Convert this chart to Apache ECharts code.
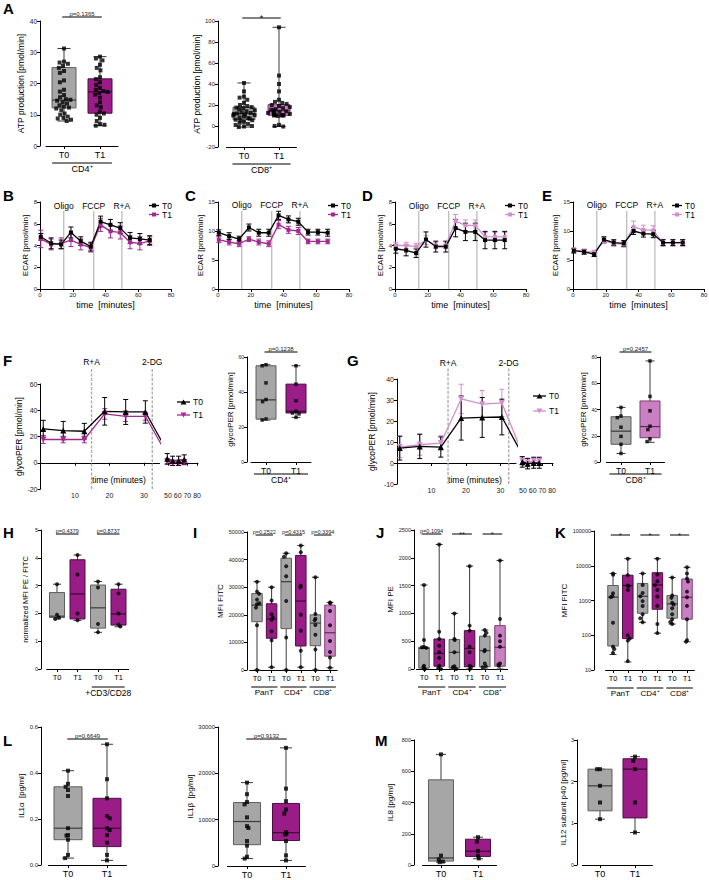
<!DOCTYPE html>
<html><head><meta charset="utf-8">
<script src="https://cdn.jsdelivr.net/npm/echarts@6/dist/echarts.min.js"></script>
<style>html,body{margin:0;padding:0;background:#fff}#c{width:709px;height:880px}</style>
</head><body><div id="c"></div>
<script>
// ================= DATA =================
const CATS2 = ['T0','T1'];
const CATS4 = ['T0','T1','T0','T1'];
const CATS6 = ['T0','T1','T0','T1','T0','T1'];

// Panel A – ATP production (box = [min, Q1, median, Q3, max])
const A_CD4_box = [[8.0,12.2,14.7,25.1,31.2],[6.5,10.5,17.3,21.5,28.6]];
const A_CD4_T0 = [31.2,27.0,26.7,26.3,25.6,25.0,24.0,23.4,21.0,20.4,18.0,17.4,16.3,15.6,15.0,14.8,14.5,14.0,13.6,13.0,12.6,12.3,12.0,11.4,10.4,10.0,9.4,9.0,8.8,8.4,8.0];
const A_CD4_T1 = [28.6,28.0,27.4,26.0,25.0,24.2,22.0,21.4,20.4,19.6,18.6,18.0,17.6,17.3,17.0,16.4,15.5,14.0,13.0,12.4,11.0,10.4,10.0,9.0,8.0,7.0,6.8,6.5];
const A_CD8_box = [[-1,6,11.7,18,41],[-0.5,10.2,14.5,20.3,94]];
const A_CD8_T0 = [41,33,28,27,25,22,20,19,18,17.5,17,16,15,14,13,12.5,12,11.5,11,10.5,10,9,8,7.5,7,6,5.5,5,4,3,2,1,0,-0.5,-1];
const A_CD8_T1 = [94,48,40,33,25,23,22,21,20,19,18,17,16,15.5,15,14,13.5,13,12.5,12,11.5,11,11,10.5,10.5,10,10,10,9.5,1,0,-0.5];

// Panels B–E – ECAR
const ECAR_TIME = [0.5,6.8,12.9,18.9,24.9,31,37,43,49,55,61,67];
const ECAR_INJECT = [14.5,32.8,50];
const ECAR_INJECT_LABEL = ['Oligo','FCCP','R+A'];
const B_T0 = [4.8,4.2,4.1,5.2,4.4,3.9,6.2,5.9,5.6,4.7,4.6,4.5];
const B_T0e = [0.3,0.5,0.4,0.5,0.4,0.4,0.5,0.5,0.5,0.5,0.5,0.4];
const B_T1 = [4.6,4.1,4.2,4.5,4.1,3.8,5.9,5.3,5.2,4.3,4.2,4.4];
const B_T1e = [0.8,0.5,0.5,0.6,0.5,0.4,0.6,0.6,0.6,0.6,0.6,0.4];
const C_T0 = [9.7,9.1,8.6,10.6,9.7,9.7,12.7,12.0,11.6,9.8,9.8,9.7];
const C_T0e = [0.5,0.6,0.5,0.6,0.6,0.6,0.7,0.6,0.6,0.5,0.5,0.6];
const C_T1 = [8.5,8.1,7.8,8.6,8.1,7.8,11.1,10.2,10.0,8.2,8.2,8.2];
const C_T1e = [0.5,0.5,0.5,0.4,0.5,0.5,0.7,0.6,0.6,0.4,0.4,0.4];
const D_T0 = [3.7,3.55,3.3,4.55,3.9,3.9,5.6,5.25,5.25,4.5,4.5,4.5];
const D_T0e = [0.4,0.5,0.4,0.7,0.5,0.5,0.8,0.8,0.8,0.8,0.8,0.8];
const D_T1 = [4.0,4.0,3.9,4.5,4.0,4.0,6.25,5.85,5.85,4.8,4.8,4.8];
const D_T1e = [0.3,0.3,0.3,0.4,0.3,0.3,0.6,0.5,0.5,0.4,0.4,0.4];
const E_T0 = [6.6,6.4,6.0,8.5,8.0,7.85,10.0,9.55,9.45,8.0,8.0,8.0];
const E_T0e = [0.4,0.4,0.4,0.5,0.5,0.5,0.6,0.6,0.6,0.5,0.5,0.5];
const E_T1 = [6.7,6.5,6.3,8.3,7.85,7.7,10.7,10.2,10.1,7.95,7.95,7.95];
const E_T1e = [0.4,0.4,0.4,0.5,0.5,0.5,1.0,0.8,0.8,0.6,0.6,0.6];

// Panels F–G – glycoPER
const GLYCO_TIME = [0.8,6.6,12.7,18.6,24.7,30.4,36.5,42.5,49.3,54.8,61,66.8];
const GLYCO_INJECT = [14.8,32.4];
const GLYCO_INJECT_LABEL = ['R+A','2-DG'];
const F_T0 = [25.8,24.5,24,39.2,38.7,38.7,10,5,3,1.5,1.5,2.5];
const F_T0e = [6.5,7,6,10.5,9.5,8.5,4,4,4,3.5,3.5,3.5];
const F_T1 = [17.7,17.7,17.7,37.2,35.4,35.4,7,3,1,0,0,0.5];
const F_T1e = [3,2.5,2.5,4,4,3,2,2,2,2,2,2];
const G_T0 = [7.1,7.9,7.6,21.4,21.7,21.9,3.5,1.5,0.5,-0.3,0,0];
const G_T0e = [5.7,5.8,4.8,10.5,9.5,8.5,2.5,2.5,2.5,2.5,2.5,2.5];
const G_T1 = [7.6,8.7,9.5,30.5,28,28.6,4,2,1,0.2,1,1];
const G_T1e = [5,5,3.5,7,6.5,6.5,2,2,2,2,2,2];
const F_box = [[24,24.5,35.5,55,55.6],[25.5,28,29,44.5,55]];
const F_box_T0 = [55.6,55,45.2,35.7,34.5,24.6,24];
const F_box_T1 = [55,44.5,35,29,28,27.5,25.5];
const G_box = [[6.5,13.5,23.5,34.5,41.6],[15,18.5,27,46.5,77]];
const G_box_T0 = [41.6,35,33.8,26.5,19.5,13.5,6.5];
const G_box_T1 = [77,50,39,27.3,24.7,17.7,15.6];

// Panel H
const H_box = [[1.8,1.85,1.9,2.75,3.05],[1.75,1.8,2.7,3.93,4.1],[1.32,1.47,2.2,3.02,3.15],[1.52,1.58,1.98,2.87,3.05]];
const H_pts = [[3.05,1.95,1.85,1.8],[4.1,3.4,2.0,1.75],[3.15,2.93,1.62,1.32],[3.05,2.72,2.0,1.6,1.53]];
// Panel I
const I_box = [[0,17500,23500,27700,32000],[1000,11500,18500,24000,30000],[0,15000,32000,40500,42300],[1000,8700,25000,41500,45100],[0,8800,17000,20000,33600],[800,5000,13500,23500,24500]];
const I_pts = [[32000,28400,27600,25500,24200,23800,22600,16200,0],[30000,25200,20200,19000,18200,14000,10800,1000],[42300,41000,37600,34000,25000,11800,0],[45100,42700,30500,30000,20000,14200,7000,1000],[33600,20300,18600,18000,16300,12800,7400,0],[24500,24200,21400,16200,10500,6500,4500,800]];
// Panel J
const J_box = [[0,15,370,390,1510],[0,50,280,540,2240],[0,15,300,530,1000],[0,40,370,690,1850],[0,40,330,590,700],[0,50,390,780,1950]];
const J_pts = [[1510,520,395,390,380,60,30,0,0],[2240,670,540,420,300,200,60,20,0],[1000,540,520,300,50,30,0],[1850,780,690,400,300,60,40,0],[700,650,600,340,320,100,50,30],[1950,900,600,500,400,100,80,60]];
// Panel K (log)
const K_box = [[28,49,1250,2700,6000],[17,80,2700,5350,16000],[236,430,1320,3100,6000],[115,560,2800,6300,16000],[210,310,800,1400,4600],[65,290,1240,4150,9000]];
const K_pts = [[6000,5500,1620,1320,1250,228,47,40,31],[16000,5350,2700,2600,2000,100,80,70,18],[6000,2800,1640,1320,960,690,400,310,236],[16000,5600,3600,2800,2000,1300,700,210,115],[4600,1400,1190,860,770,600,400,290,240,210],[9000,6000,4300,3500,1800,1240,700,290,72,65]];
// Panel L
const L1_box = [[0.03,0.11,0.16,0.34,0.41],[0.02,0.08,0.16,0.29,0.525]];
const L1_T0 = [0.41,0.353,0.34,0.326,0.30,0.16,0.13,0.128,0.11,0.044,0.03];
const L1_T1 = [0.525,0.373,0.29,0.213,0.203,0.16,0.152,0.13,0.097,0.044,0.02];
const L2_box = [[1600,4600,9600,13700,18000],[1200,5500,7200,13500,25500]];
const L2_T0 = [18000,15500,13800,13300,10500,8600,8200,5400,4400,2000,1600];
const L2_T1 = [25500,16700,14000,12200,11300,7300,7000,6800,5400,2300,1200];
// Panel M
const M1_box = [[18,25,45,545,708],[40,55,88,165,178]];
const M1_T0 = [708,60,35,22,18];
const M1_T1 = [178,150,90,60,42];
const M2_box = [[1.1,1.3,1.9,2.3,2.3],[0.78,1.13,2.3,2.55,2.6]];
const M2_T0 = [2.3,2.3,1.9,1.5,1.1];
const M2_T1 = [2.6,2.5,2.3,1.5,0.78];

// ================= STYLE / BUILDERS =================
const FONT = '"Liberation Sans", Arial, Helvetica, sans-serif';
const FILL = {g:'#a6a6a6', p:'#9a1c87', l:'#c97fc1'};
const EDGE = {g:'#5e5e5e', p:'#4f0c45', l:'#7d3d76'};
const MED  = {g:'#3a3a3a', p:'#3d0836', l:'#5d2a57'};
const WHISK = '#3a3a3a';
const LINE_P = '#a2298f', LINE_L = '#d38fcd';
const BLK = '#000', TXT = '#1a1a1a';
const plain = v => String(v);

const grids=[], xAxes=[], yAxes=[], series=[], gfx=[];
const annGroups=[], annBrackets=[], annVlines=[];

function addCS(g, xa, ya){
  const gi = grids.length;
  grids.push(Object.assign({show:false, containLabel:false, outerBoundsMode:'none'}, g));
  xAxes.push(Object.assign({gridIndex:gi}, xa));
  yAxes.push(Object.assign({gridIndex:gi}, ya));
  return gi;
}
function axLine(onZero){ return {show:true, onZero:!!onZero, lineStyle:{color:BLK, width:1}}; }
function axTick(extra){ return Object.assign({show:true, length:3, lineStyle:{color:BLK, width:1}}, extra||{}); }
function axLabel(fs, extra){ return Object.assign({fontSize:fs, color:TXT, margin:3, formatter:plain}, extra||{}); }

function boxPanel(o){
  const n=o.cats.length, band=(o.cx[n-1]-o.cx[0])/(n-1), left=o.cx[0]-band/2;
  const gi = addCS({left:left, top:o.top, width:band*n, height:o.bottom-o.top},
    {type:'category', data:o.cats, axisLine:axLine(false), axisTick:axTick({alignWithLabel:true}),
     axisLabel:{fontSize:o.catFs, color:BLK, margin:4, interval:0}, splitLine:{show:false},
     jitter:o.jitter||0, jitterOverlap:false, jitterMargin:0.5},
    {type:o.log?'log':'value', logBase:10, min:o.min, max:o.max, interval:o.log?undefined:o.interval,
     offset:left-o.yX, name:o.yName, nameLocation:'middle', nameGap:o.nameGap,
     nameTextStyle:{fontSize:o.nameFs||8, color:BLK},
     axisLine:axLine(false), axisTick:axTick(), minorTick:{show:false}, splitLine:{show:false},
     axisLabel:axLabel(o.tickFs||6, o.fmt?{formatter:o.fmt}:null)});
  const bw=o.boxW, cw=o.capW||o.boxW*0.5, cols=o.col;
  series.push({type:'custom', xAxisIndex:gi, yAxisIndex:gi, silent:true, z:2,
    data:o.box.map((b,i)=>[i, b[0], b[1], b[2], b[3], b[4]]),
    encode:{x:0, y:[1,2,3,4,5]},
    renderItem(p, api){
      const i=api.value(0);
      const P=k=>api.coord([i, api.value(k)]);
      const pMin=P(1), pQ1=P(2), pMed=P(3), pQ3=P(4), pMax=P(5), x=pMed[0];
      const c=cols[i], ws={stroke:WHISK, lineWidth:1};
      return {type:'group', children:[
        {type:'line', shape:{x1:x,y1:pMax[1],x2:x,y2:pMin[1]}, style:ws},
        {type:'line', shape:{x1:x-cw/2,y1:pMax[1],x2:x+cw/2,y2:pMax[1]}, style:ws},
        {type:'line', shape:{x1:x-cw/2,y1:pMin[1],x2:x+cw/2,y2:pMin[1]}, style:ws},
        {type:'rect', shape:{x:x-bw/2, y:pQ3[1], width:bw, height:pQ1[1]-pQ3[1]}, style:{fill:FILL[c], stroke:EDGE[c], lineWidth:1}},
        {type:'line', shape:{x1:x-bw/2,y1:pMed[1],x2:x+bw/2,y2:pMed[1]}, style:{stroke:MED[c], lineWidth:1.2}}]};
    }});
  series.push({type:'scatter', xAxisIndex:gi, yAxisIndex:gi, silent:true, z:5,
    symbol:o.sym||'rect', symbolSize:o.symSize||4, itemStyle:{color:BLK},
    data:o.pts.flatMap((arr,i)=>arr.map(v=>[i,v]))});
  (o.groups||[]).forEach(g=>annGroups.push(Object.assign({gi, bottom:o.bottom, band}, g)));
  (o.brackets||[]).forEach(b=>annBrackets.push(Object.assign({gi, top:o.top, band}, b)));
  return gi;
}

function errSeries(gi, xs, ys, es, color, keep){
  const data=[]; xs.forEach((x,i)=>{ if(!keep || keep(x)) data.push([x, ys[i], es[i]]); });
  return {type:'custom', xAxisIndex:gi, yAxisIndex:gi, silent:true, z:3, data,
    renderItem(p, api){
      const x=api.value(0), y=api.value(1), e=api.value(2);
      const t=api.coord([x,y+e]), b=api.coord([x,y-e]), w=2.5;
      const st={stroke:color, lineWidth:1};
      return {type:'group', children:[
        {type:'line', shape:{x1:t[0],y1:t[1],x2:b[0],y2:b[1]}, style:st},
        {type:'line', shape:{x1:t[0]-w,y1:t[1],x2:t[0]+w,y2:t[1]}, style:st},
        {type:'line', shape:{x1:b[0]-w,y1:b[1],x2:b[0]+w,y2:b[1]}, style:st}]};
    }};
}
function lineSeries(gi, xs, ys, color, sym, size, rot){
  return {type:'line', xAxisIndex:gi, yAxisIndex:gi, silent:true, clip:true, z:4,
    data:xs.map((x,i)=>[x, ys[i]]), symbol:sym, symbolSize:size, symbolRotate:rot||0, showSymbol:true,
    lineStyle:{color, width:1.3}, itemStyle:{color}};
}
function legendItem(x, y, len, color, sym, text, rot){
  gfx.push({type:'line', shape:{x1:x,y1:y,x2:x+len,y2:y}, style:{stroke:color, lineWidth:1.3}});
  const c=x+len/2;
  if(sym==='rect') gfx.push({type:'rect', shape:{x:c-2,y:y-2,width:4,height:4}, style:{fill:color}});
  else if(rot) gfx.push({type:'polygon', shape:{points:[[c-3,y-2.5],[c+3,y-2.5],[c,y+2.5]]}, style:{fill:color}});
  else gfx.push({type:'polygon', shape:{points:[[c-3,y+2.5],[c+3,y+2.5],[c,y-2.5]]}, style:{fill:color}});
  gfx.push({type:'text', x:x+len+3, y:y, style:{text, fill:BLK, font:'8.5px '+FONT, verticalAlign:'middle', textVerticalAlign:'middle'}});
}

function ecarPanel(o){
  const gi = addCS({left:o.left, top:202, width:131, height:87},
    {type:'value', min:0, max:80, interval:20, name:'time  [minutes]', nameLocation:'middle', nameGap:11,
     nameTextStyle:{fontSize:9, color:BLK}, axisLine:axLine(false), axisTick:axTick(),
     axisLabel:axLabel(6), splitLine:{show:false}},
    {type:'value', min:0, max:o.ymax, interval:o.yint, name:'ECAR [pmol/min]', nameLocation:'middle', nameGap:9,
     nameTextStyle:{fontSize:8, color:BLK}, axisLine:axLine(false), axisTick:axTick(),
     axisLabel:axLabel(6), splitLine:{show:false}});
  annVlines.push({gi, xs:ECAR_INJECT, labels:ECAR_INJECT_LABEL, yBot:0, yTop:o.vtop, color:'#bdbdbd', fs:8.5});
  series.push(errSeries(gi, ECAR_TIME, o.t1, o.t1e, o.c1));
  series.push(lineSeries(gi, ECAR_TIME, o.t1, o.c1, 'rect', 4));
  series.push(errSeries(gi, ECAR_TIME, o.t0, o.t0e, BLK));
  series.push(lineSeries(gi, ECAR_TIME, o.t0, BLK, 'rect', 4));
  legendItem(o.lgx, 205.5, 10, BLK, 'rect', 'T0');
  legendItem(o.lgx, 214.5, 10, o.c1, 'rect', 'T1');
}

function glycoPanel(o){
  const yBase = {type:'value', min:o.ymin, max:o.ymax, interval:o.yint};
  const gA = addCS({left:o.left, top:o.top, width:119, height:105},
    {type:'value', min:0, max:34.5, axisLine:axLine(true), axisTick:axTick({customValues:[10,20,30]}),
     axisLabel:axLabel(7, {customValues:[10,20,30]}), splitLine:{show:false}},
    Object.assign({name:'glycoPER [pmol/min]', nameLocation:'middle', nameGap:o.nameGap,
     nameTextStyle:{fontSize:8.5, color:BLK}, axisLine:axLine(false), axisTick:axTick(),
     axisLabel:axLabel(7), splitLine:{show:false}}, yBase));
  const gB = addCS({left:o.left2, top:o.top, width:31, height:105},
    {type:'value', min:49, max:81, axisLine:axLine(true), axisTick:axTick({customValues:[50,60,70,80]}),
     axisLabel:axLabel(7, {customValues:[50,60,70,80], margin:3}), splitLine:{show:false}},
    Object.assign({show:false, splitLine:{show:false}}, yBase));
  annVlines.push({gi:gA, xs:GLYCO_INJECT, labels:GLYCO_INJECT_LABEL, yBot:o.ymin, yTop:o.vtop, color:'#a9a9a9', fs:8.5, dash:[3,1.5]});
  [gA, gB].forEach((g, k)=>{
    const keep = k===0 ? (x=>x<=34.5) : (x=>x>=49);
    series.push(errSeries(g, GLYCO_TIME, o.t1, o.t1e, o.c1, keep));
    series.push(lineSeries(g, GLYCO_TIME, o.t1, o.c1, 'triangle', 6, 180));
    series.push(errSeries(g, GLYCO_TIME, o.t0, o.t0e, BLK, keep));
    series.push(lineSeries(g, GLYCO_TIME, o.t0, BLK, 'triangle', 6, 0));
  });
  gfx.push({type:'text', x:o.nameX, y:480, style:{text:'time (minutes)', fill:BLK, font:'8.5px '+FONT,
    align:'center', verticalAlign:'middle', textAlign:'center', textVerticalAlign:'middle'}});
  legendItem(o.lgx, o.lgy0, 13, BLK, 'tri', 'T0', false);
  legendItem(o.lgx, o.lgy1, 13, o.c1, 'tri', 'T1', true);
}

// ================= PANELS =================
// A
boxPanel({cats:CATS2, cx:[64,100], yX:40, top:21, bottom:146, min:0, max:40, interval:10,
  yName:'ATP production [pmol/min]', nameGap:13, nameFs:8.5, tickFs:6.5, catFs:9, boxW:24, capW:13, col:['g','p'],
  box:A_CD4_box, pts:[A_CD4_T0, A_CD4_T1], sym:'rect', symSize:4, jitter:22,
  groups:[{from:0,to:1,text:'CD4⁺',fs:9,dy:17,ext:0.33}],
  brackets:[{from:0,to:1,text:'p=0.1365',fs:6,dy:-4,ext:0.05}]});
boxPanel({cats:CATS2, cx:[244,279], yX:218, top:21, bottom:147, min:-20, max:100, interval:20,
  yName:'ATP production [pmol/min]', nameGap:14, nameFs:8.5, tickFs:6, catFs:9, boxW:22, capW:13, col:['g','l'],
  box:A_CD8_box, pts:[A_CD8_T0, A_CD8_T1], sym:'rect', symSize:4, jitter:22,
  groups:[{from:0,to:1,text:'CD8⁺',fs:9,dy:17,ext:0.33}],
  brackets:[{from:0,to:1,text:'*',fs:9,dy:-3,ext:0.05}]});

// B–E
ecarPanel({left:40, ymax:8, yint:2, vtop:7.17, t0:B_T0, t0e:B_T0e, t1:B_T1, t1e:B_T1e, c1:LINE_P, lgx:149});
ecarPanel({left:218, ymax:15, yint:5, vtop:13.45, t0:C_T0, t0e:C_T0e, t1:C_T1, t1e:C_T1e, c1:LINE_P, lgx:328});
ecarPanel({left:395, ymax:8, yint:2, vtop:7.17, t0:D_T0, t0e:D_T0e, t1:D_T1, t1e:D_T1e, c1:LINE_L, lgx:505});
ecarPanel({left:573, ymax:15, yint:5, vtop:13.45, t0:E_T0, t0e:E_T0e, t1:E_T1, t1e:E_T1e, c1:LINE_L, lgx:672});

// F, G line panels
glycoPanel({left:40.5, left2:167, top:384, ymin:-20, ymax:60, yint:20, vtop:72.5, nameGap:14,
  t0:F_T0, t0e:F_T0e, t1:F_T1, t1e:F_T1e, c1:LINE_P, nameX:119, lgx:177, lgy0:402, lgy1:415});
glycoPanel({left:397, left2:522, top:379, ymin:-10, ymax:40, yint:10, vtop:45.2, nameGap:21,
  t0:G_T0, t0e:G_T0e, t1:G_T1, t1e:G_T1e, c1:LINE_L, nameX:475, lgx:533, lgy0:396, lgy1:411});
// F, G box panels
boxPanel({cats:CATS2, cx:[266,296], yX:247, top:357, bottom:462, min:0, max:60, interval:20,
  yName:'glycoPER [pmol/min]', nameGap:8, nameFs:8, tickFs:5, catFs:8.5, boxW:20, capW:9, col:['g','p'],
  box:F_box, pts:[F_box_T0, F_box_T1], sym:'rect', symSize:3.5, jitter:8,
  groups:[{from:0,to:1,text:'CD4⁺',fs:8.5,dy:12,ext:0.4}],
  brackets:[{from:0,to:1,text:'p=0.1238',fs:6,dy:-5,ext:0.05}]});
boxPanel({cats:CATS2, cx:[621,650], yX:600, top:357, bottom:462, min:0, max:80, interval:20,
  yName:'glycoPER [pmol/min]', nameGap:8, nameFs:8, tickFs:5, catFs:8.5, boxW:20, capW:9, col:['g','l'],
  box:G_box, pts:[G_box_T0, G_box_T1], sym:'rect', symSize:3.5, jitter:8,
  groups:[{from:0,to:1,text:'CD8⁺',fs:8.5,dy:12,ext:0.4}],
  brackets:[{from:0,to:1,text:'p=0.2457',fs:6,dy:-5,ext:0.05}]});

// H–K
boxPanel({cats:CATS4, cx:[57,77.5,98,118.5], yX:41, top:530, bottom:669, min:0, max:5, interval:1,
  yName:'normalized MFI PE / FITC', nameGap:12, nameFs:7.5, tickFs:5.5, catFs:7.5, boxW:15, capW:8, col:['g','p','g','p'],
  box:H_box, pts:H_pts, sym:'circle', symSize:4, jitter:5,
  groups:[{from:2,to:3,text:'+CD3/CD28',fs:8.5,dy:18,ext:0.3}],
  brackets:[{from:0,to:1,text:'p=0.4379',fs:5.5,dy:4,ext:0.05},{from:2,to:3,text:'p=0.8737',fs:5.5,dy:4,ext:0.05}]});
boxPanel({cats:CATS6, cx:[257,271.6,286.2,300.8,315.4,330], yX:247, top:532, bottom:670, min:0, max:50000, interval:10000,
  yName:'MFI FITC', nameGap:23, nameFs:8, tickFs:5.5, catFs:7.5, boxW:10.5, capW:7, col:['g','p','g','p','g','l'],
  box:I_box, pts:I_pts, sym:'circle', symSize:4, jitter:5,
  groups:[{from:0,to:1,text:'PanT',fs:8,dy:17,ext:0.4},{from:2,to:3,text:'CD4⁺',fs:8,dy:17,ext:0.4},{from:4,to:5,text:'CD8⁺',fs:8,dy:17,ext:0.4}],
  brackets:[{from:0,to:1,text:'p=0.2522',fs:5.5,dy:3,ext:0.1},{from:2,to:3,text:'p=0.4315',fs:5.5,dy:3,ext:0.1},{from:4,to:5,text:'p=0.3394',fs:5.5,dy:3,ext:0.1}]});
boxPanel({cats:CATS6, cx:[424,439.2,454.4,469.6,484.8,500], yX:414, top:530, bottom:669, min:0, max:2500, interval:500,
  yName:'MFI PE', nameGap:18, nameFs:8, tickFs:5.5, catFs:7.5, boxW:10.5, capW:7, col:['g','p','g','p','g','l'],
  box:J_box, pts:J_pts, sym:'circle', symSize:4, jitter:5,
  groups:[{from:0,to:1,text:'PanT',fs:8,dy:18,ext:0.4},{from:2,to:3,text:'CD4⁺',fs:8,dy:18,ext:0.4},{from:4,to:5,text:'CD8⁺',fs:8,dy:18,ext:0.4}],
  brackets:[{from:0,to:1,text:'p=0.1094',fs:5.5,dy:4,ext:0.15},{from:2,to:3,text:'**',fs:8,dy:4,ext:0.15},{from:4,to:5,text:'*',fs:8,dy:4,ext:0.15}]});
boxPanel({cats:CATS6, cx:[613,627.8,642.6,657.4,672.2,687], yX:594, top:531, bottom:670, min:10, max:100000, log:true,
  yName:'MFI FITC', nameGap:20, nameFs:8, tickFs:5.5, catFs:7.5, boxW:10.5, capW:7, col:['g','p','g','p','g','l'],
  box:K_box, pts:K_pts, sym:'circle', symSize:4, jitter:5,
  groups:[{from:0,to:1,text:'PanT',fs:8,dy:18,ext:0.4},{from:2,to:3,text:'CD4⁺',fs:8,dy:18,ext:0.4},{from:4,to:5,text:'CD8⁺',fs:8,dy:18,ext:0.4}],
  brackets:[{from:0,to:1,text:'*',fs:8,dy:4,ext:0.15},{from:2,to:3,text:'*',fs:8,dy:4,ext:0.15},{from:4,to:5,text:'*',fs:8,dy:4,ext:0.15}]});

// L
boxPanel({cats:CATS2, cx:[68,107], yX:41, top:727, bottom:865, min:0, max:0.6, interval:0.2,
  fmt:v=>v.toFixed(1), yName:'IL1α  [pg/ml]', nameGap:16, nameFs:8, tickFs:6, catFs:9, boxW:28, capW:12, col:['g','p'],
  box:L1_box, pts:[L1_T0, L1_T1], sym:'rect', symSize:4, jitter:6,
  brackets:[{from:0,to:1,text:'p=0.6649',fs:6,dy:12,ext:0.02}]});
boxPanel({cats:CATS2, cx:[247,286], yX:218, top:727, bottom:866, min:0, max:30000, interval:10000,
  yName:'IL1β  [pg/ml]', nameGap:22, nameFs:8, tickFs:6, catFs:9, boxW:27, capW:12, col:['g','p'],
  box:L2_box, pts:[L2_T0, L2_T1], sym:'rect', symSize:4, jitter:6,
  brackets:[{from:0,to:1,text:'p=0.9132',fs:6,dy:12,ext:0.02}]});
// M
boxPanel({cats:CATS2, cx:[441,478], yX:414, top:740, bottom:865, min:0, max:800, interval:200,
  yName:'IL8 [pg/ml]', nameGap:20, nameFs:8, tickFs:5.5, catFs:9, boxW:25, capW:10, col:['g','p'],
  box:M1_box, pts:[M1_T0, M1_T1], sym:'rect', symSize:4, jitter:6});
boxPanel({cats:CATS2, cx:[600,635], yX:577, top:740, bottom:865, min:0, max:3, interval:1,
  yName:'IL12 subunit p40 [pg/ml]', nameGap:10, nameFs:8, tickFs:5.5, catFs:9, boxW:24, capW:10, col:['g','p'],
  box:M2_box, pts:[M2_T0, M2_T1], sym:'rect', symSize:4, jitter:6});

// panel letters
[['A',3,1],['B',3,188],['C',185,188],['D',362,188],['E',542,188],['F',3,353],['G',347,353],
 ['H',3,525],['I',193,525],['J',376,525],['K',555,525],['L',3,733],['M',375,733]].forEach(([t,x,y])=>{
  gfx.push({type:'text', x, y, style:{text:t, fill:BLK, font:'bold 15px '+FONT, verticalAlign:'top', textVerticalAlign:'top'}});
});

// ================= RENDER =================
const chart = echarts.init(document.getElementById('c'), null, {renderer:'svg', width:709, height:880});
chart.setOption({animation:false, backgroundColor:'#fff', textStyle:{fontFamily:FONT},
  grid:grids, xAxis:xAxes, yAxis:yAxes, series});
const px=(gi,i)=>chart.convertToPixel({xAxisIndex:gi}, i);
const pt=(gi,x,y)=>chart.convertToPixel({gridIndex:gi}, [x,y]);
annVlines.forEach(v=>{
  v.xs.forEach((x,i)=>{
    const b=pt(v.gi,x,v.yBot), t=pt(v.gi,x,v.yTop);
    gfx.push({type:'line', z:1, shape:{x1:b[0],y1:b[1],x2:t[0],y2:t[1]}, style:{stroke:v.color, lineWidth:1.3, lineDash:v.dash||null}});
    gfx.push({type:'text', x:t[0], y:t[1]-1, style:{text:v.labels[i], fill:BLK, font:v.fs+'px '+FONT,
      align:'center', verticalAlign:'bottom', textAlign:'center', textVerticalAlign:'bottom'}});
  });
});
annGroups.forEach(g=>{
  const x0=px(g.gi,g.from)-g.band*g.ext, x1=px(g.gi,g.to)+g.band*g.ext, y=g.bottom+g.dy;
  gfx.push({type:'line', shape:{x1:x0,y1:y,x2:x1,y2:y}, style:{stroke:BLK, lineWidth:1}});
  gfx.push({type:'text', x:(x0+x1)/2, y:y+1.5, style:{text:g.text, fill:BLK, font:g.fs+'px '+FONT,
    align:'center', verticalAlign:'top', textAlign:'center', textVerticalAlign:'top'}});
});
annBrackets.forEach(b=>{
  const x0=px(b.gi,b.from)-b.band*b.ext, x1=px(b.gi,b.to)+b.band*b.ext, y=b.top+b.dy;
  gfx.push({type:'line', shape:{x1:x0,y1:y,x2:x1,y2:y}, style:{stroke:BLK, lineWidth:1}});
  const star=/^\*+$/.test(b.text);
  gfx.push({type:'text', x:(x0+x1)/2, y:star?y+4:y-0.5, style:{text:b.text, fill:TXT, font:b.fs+'px '+FONT,
    align:'center', verticalAlign:'bottom', textAlign:'center', textVerticalAlign:'bottom'}});
});
chart.setOption({graphic:{elements:gfx}});
</script></body></html>
